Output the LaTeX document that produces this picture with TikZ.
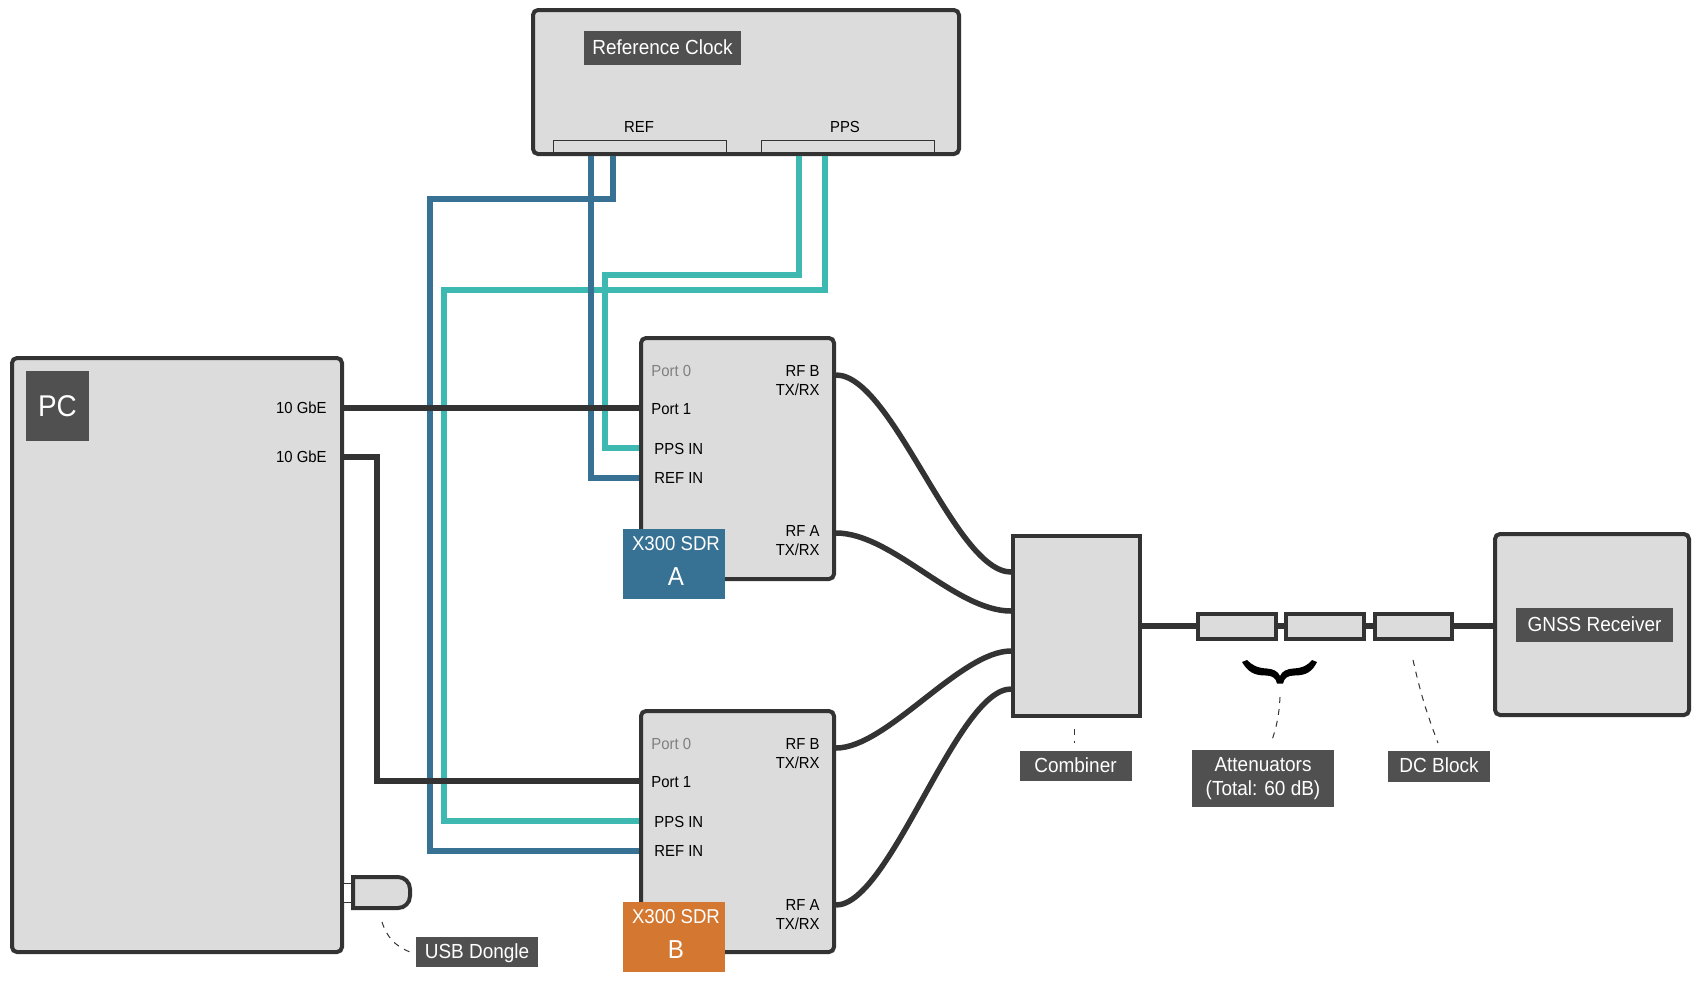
\documentclass[tikz,border=0pt]{standalone}
\usepackage{fontspec}
\setmainfont[FakeStretch=0.93]{Liberation Sans}
\usetikzlibrary{positioning}
\definecolor{boxgray}{HTML}{DCDCDC}
\definecolor{linedark}{HTML}{333333}
\definecolor{taggray}{HTML}{505050}
\definecolor{refblue}{HTML}{377194}
\definecolor{ppsteal}{HTML}{3DB9B1}
\definecolor{sdrorange}{HTML}{D47730}

\begin{document}
\begin{tikzpicture}[x=0.5pt,y=-0.5pt]
	\tikzset{device/.style={draw=linedark,fill=boxgray,line width=2pt,rounded corners=2.5pt,inner sep=0pt},
		part/.style={device,rounded corners=0pt},
		tagbase/.style={fill=taggray,text=white,align=center,inner sep=0pt,font=\fontsize{10.2}{12}\selectfont},
		tag/.style={tagbase,text height=7.5pt,text depth=1.34pt},
		sdrtag/.style={fill=#1,minimum width=51pt,minimum height=35pt,inner sep=0pt},
		sdrtext/.style={text=white,inner sep=0pt,font=\fontsize{#1}{#1}\selectfont},
		portlabel/.style={inner sep=0pt,align=right,font=\fontsize{8}{9.5}\selectfont},
		eth/.style={draw=linedark,line width=2.75pt},
		ppsline/.style={draw=ppsteal,line width=3pt},
		refline/.style={draw=refblue,line width=3pt},
		leader/.style={draw=linedark,line width=.5pt,dash pattern=on 3pt off 3pt}}
	\useasboundingbox (0,0) rectangle (1700,982);

	\node [device, minimum width=213pt, minimum height=72pt] (clock) at (746,82) {};
	\node [tag, minimum width=78.5pt, minimum height=17pt] (clocktag) at (662.5,48) {Reference Clock};
	\node [portlabel] (reflabel) at (639,127) {REF};
	\node [portlabel] (ppslabel) at (845,127) {PPS};
	\node [draw=linedark, line width=.5pt, minimum width=86.5pt, minimum height=7.25pt, inner sep=0pt] (refport) at (639.5,148) {};
	\node [draw=linedark, line width=.5pt, minimum width=86.5pt, minimum height=7.25pt, inner sep=0pt] (ppsport) at (847.5,148) {};

	\node [device, minimum width=165pt, minimum height=297pt] (pc) at (177,655) {};
	\node [tagbase, minimum width=31.5pt, minimum height=35pt, font=\fontsize{15}{18}\selectfont] (pctag) at (57.5,406) {PC};
	\node [portlabel, anchor=east] (gbeone) at (327,408) {10 GbE};
	\node [portlabel, anchor=east] (gbetwo) at (327,457) {10 GbE};

	\node [device, minimum width=96.5pt, minimum height=120.5pt] (boxa) at (737.5,458.5) {};
	\node [portlabel, anchor=west, text=gray] (aport0) at (651,371) {Port 0};
	\node [portlabel, anchor=west] (aport1) at (651,409) {Port 1};
	\node [portlabel, anchor=west] (apps) at (654,449) {PPS IN};
	\node [portlabel, anchor=west] (aref) at (654,478) {REF IN};
	\node [portlabel, anchor=east] (arfb) at (820,381) {RF B\\TX/RX};
	\node [portlabel, anchor=east] (arfa) at (820,541) {RF A\\TX/RX};
	\node [sdrtag=refblue] (atag) at (674,564) {};
	\node [sdrtext=10] (atagtop) at (676,544) {X300 SDR};
	\node [sdrtext=13] (ataglow) at (676,577) {A};

	\node [device, minimum width=96.5pt, minimum height=120.5pt] (boxb) at (737.5,831.5) {};
	\node [portlabel, anchor=west, text=gray] (bport0) at (651,744) {Port 0};
	\node [portlabel, anchor=west] (bport1) at (651,782) {Port 1};
	\node [portlabel, anchor=west] (bpps) at (654,822) {PPS IN};
	\node [portlabel, anchor=west] (bref) at (654,851) {REF IN};
	\node [portlabel, anchor=east] (brfb) at (820,754) {RF B\\TX/RX};
	\node [portlabel, anchor=east] (brfa) at (820,915) {RF A\\TX/RX};
	\node [sdrtag=sdrorange] (btag) at (674,937) {};
	\node [sdrtext=10] (btagtop) at (676,917) {X300 SDR};
	\node [sdrtext=13] (btaglow) at (676,950) {B};

	\node [part, minimum width=63.5pt, minimum height=90pt] (combiner) at (1076.5,626) {};
	\node [part, minimum width=39pt, minimum height=12.5pt] (attone) at (1237,626) {};
	\node [part, minimum width=39pt, minimum height=12.5pt, right=3pt of attone] (atttwo) {};
	\node [part, minimum width=38.5pt, minimum height=12.5pt, right=3.5pt of atttwo] (dcblock) {};
	\node [device, minimum width=97pt, minimum height=90.5pt] (gnss) at (1592,624.5) {};
	\node [tag, minimum width=78.5pt, minimum height=17pt] (gnsstag) at (1594.5,625) {GNSS Receiver};

	\node [tag, minimum width=56pt, minimum height=15pt, below=16.5pt of combiner, xshift=-.5pt] (combinertag) {Combiner};
	\node [tagbase, minimum width=71pt, minimum height=28.5pt] (atttag) at (1263,778.5) {Attenuators\\(Total: 60 dB)};
	\node [tag, minimum width=51pt, minimum height=15.5pt] (dctag) at (1439,766.5) {DC Block};
	\node [tag, minimum width=61pt, minimum height=15pt] (usbtag) at (477,952) {USB Dongle};

	\node [draw=linedark, fill=white, line width=.5pt, minimum width=4pt, minimum height=9.5pt, inner sep=0pt] (nub) at (347,892.5) {};
	\draw [draw=linedark, fill=boxgray, line width=2pt] (353,877) {[rounded corners=6pt] -- (410,877) -- (410,908)} -- (353,908) -- cycle;

	\path [ppsline] (ppsport.south -| 799,0) -- (799,275) -- (605,275) -- (605,448) -- (boxa.west |- 0,448);
	\path [ppsline] (ppsport.south -| 825,0) -- (825,290) -- (444,290) -- (444,821) -- (boxb.west |- 0,821);
	\path [refline] (clock.south -| 591,0) -- (591,478) -- (boxa.west |- aref);
	\path [refline] (clock.south -| 613,0) -- (613,199) -- (430,199) -- (430,851) -- (boxb.west |- bref);
	\path [eth] (pc.east |- gbeone) -- (boxa.west |- gbeone);
	\path [eth] (pc.east |- gbetwo) -- (377,457) -- (377,781) -- (boxb.west |- 0,781);

	\path [eth] (boxa.east |- 0,375) edge [out=0,in=180,looseness=.55] (combiner.west |- 0,572)
		(boxa.east |- 0,533) edge [out=0,in=180,looseness=.75] (combiner.west |- 0,611)
		(boxb.east |- 0,748) edge [out=0,in=180,looseness=.65] (combiner.west |- 0,651)
		(boxb.east |- 0,905) edge [out=0,in=180,looseness=.5] (combiner.west |- 0,689);
	\path [eth] (combiner.east) -- (attone.west)
		(attone.east) -- (atttwo.west)
		(atttwo.east) -- (dcblock.west)
		(dcblock.east) -- (gnss.west |- dcblock.east);

	\fill [black] (1242,662) .. controls (1248,672) and (1254,675.5) .. (1266,675.5)
		.. controls (1272,675.5) and (1276,678) .. (1277,683.5) -- (1283,683.5)
		.. controls (1284,678) and (1288,675.5) .. (1294,675.5)
		.. controls (1306,675.5) and (1312,672) .. (1317,662) -- (1312,660)
		.. controls (1308,665) and (1303,668) .. (1293,668.5)
		.. controls (1287,669) and (1282,671) .. (1280,676)
		.. controls (1278,671) and (1273,669) .. (1267,668.5)
		.. controls (1257,668) and (1252,665) .. (1247,660) -- cycle;

	\coordinate (combinerdash) at (1074,729);
	\coordinate (combinerend) at (1074,743);
	\coordinate (bracedash) at (1280,697);
	\coordinate (attend) at (1271,743);
	\coordinate (dcdash) at (1413,660);
	\coordinate (dcend) at (1438,743);
	\coordinate (usbdash) at (382,922);
	\coordinate (usbend) at (410,952);
	\path [leader] (combinerdash) -- (combinerend);
	\path [leader] (bracedash) to [bend left=8] (attend);
	\path [leader] (dcdash) to [bend right=4] (dcend);
	\path [leader] (usbdash) to [bend right=25] (usbend);
\end{tikzpicture}
\end{document}
